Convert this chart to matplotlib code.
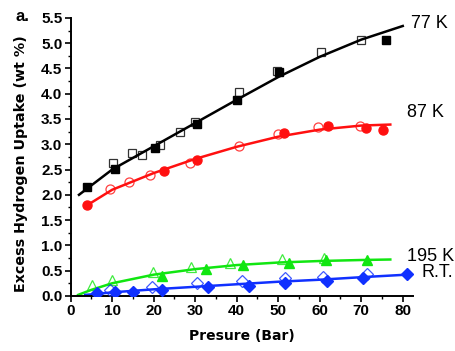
import matplotlib
matplotlib.use("Agg")
import matplotlib.pyplot as plt
from matplotlib.ticker import MultipleLocator

plt.rcParams['font.family'] = ['Liberation Sans', 'DejaVu Sans']

# 77 K
k77_fill_x = [3.9, 10.7, 20.3, 30.4, 40.0, 50.2, 76.0]
k77_fill_y = [2.16, 2.51, 2.93, 3.41, 3.88, 4.42, 5.06]
k77_open_x = [10.2, 14.8, 17.2, 21.5, 26.3, 30.0, 40.6, 49.7, 60.3, 70.0]
k77_open_y = [2.63, 2.83, 2.79, 2.99, 3.25, 3.45, 4.04, 4.44, 4.83, 5.07]
k77_fit_x = [2, 10, 20, 30, 40, 50, 60, 70, 80]
k77_fit_y = [2.0, 2.5, 2.96, 3.42, 3.88, 4.33, 4.73, 5.07, 5.34]

# 87 K
k87_fill_x = [3.9, 22.5, 30.5, 51.4, 61.9, 71.2, 75.2]
k87_fill_y = [1.80, 2.48, 2.69, 3.22, 3.37, 3.32, 3.28]
k87_open_x = [9.5, 14.1, 19.1, 28.8, 40.6, 50.0, 59.6, 69.7]
k87_open_y = [2.12, 2.26, 2.40, 2.63, 2.97, 3.20, 3.35, 3.37]
k87_fit_x = [3.5, 10, 20, 30, 40, 50, 60, 70, 77]
k87_fit_y = [1.77, 2.1, 2.43, 2.71, 2.95, 3.15, 3.29, 3.37, 3.39]

# 195 K
k195_fill_x = [22.0, 32.6, 41.5, 52.6, 61.5, 71.4]
k195_fill_y = [0.40, 0.53, 0.61, 0.66, 0.71, 0.71]
k195_open_x = [5.1, 9.9, 19.8, 29.1, 38.4, 50.9, 61.0]
k195_open_y = [0.22, 0.32, 0.48, 0.57, 0.65, 0.73, 0.75]
k195_fit_x = [1.8, 5, 10, 20, 30, 40, 50, 60, 70, 77]
k195_fit_y = [0.02, 0.12, 0.25, 0.42, 0.53, 0.61, 0.66, 0.69, 0.71, 0.72]

# R.T.
rt_fill_x = [6.3, 10.7, 15.0, 22.0, 33.2, 43.0, 51.6, 61.8, 70.5, 81.0]
rt_fill_y = [0.06, 0.08, 0.08, 0.12, 0.18, 0.20, 0.26, 0.30, 0.35, 0.43]
rt_open_x = [9.5, 19.5, 30.4, 41.2, 51.6, 60.8, 71.4]
rt_open_y = [0.12, 0.17, 0.25, 0.30, 0.35, 0.38, 0.43]
rt_fit_x = [3.5, 5, 10, 20, 30, 40, 50, 60, 70, 81]
rt_fit_y = [0.02, 0.03, 0.07, 0.13, 0.18, 0.23, 0.28, 0.32, 0.37, 0.42]

labels = ['77 K', '87 K', '195 K', 'R.T.']

fig = plt.figure(figsize=(4.56, 3.51), dpi=100)
ax = fig.add_axes([0.155, 0.157, 0.751, 0.792])

GREEN = '#11e611'
BLUE = '#1030ff'
series = [
    (k77_fit_x, k77_fit_y, k77_fill_x, k77_fill_y, k77_open_x, k77_open_y, 'black', 's', 6),
    (k87_fit_x, k87_fit_y, k87_fill_x, k87_fill_y, k87_open_x, k87_open_y, '#ff1010', 'o', 6.5),
    (k195_fit_x, k195_fit_y, k195_fill_x, k195_fill_y, k195_open_x, k195_open_y, GREEN, '^', 7.5),
    (rt_fit_x, rt_fit_y, rt_fill_x, rt_fill_y, rt_open_x, rt_open_y, BLUE, 'D', 6),
]
for fx, fy, ax_, ay, ox, oy, c, m, ms in series:
    ax.plot(fx, fy, color=c, lw=1.8, zorder=2)
    ax.plot(ox, oy, ls='none', marker=m, ms=ms, mfc='none', mec=c, mew=0.9, alpha=0.8, zorder=3)
    ax.plot(ax_, ay, ls='none', marker=m, ms=ms, color=c, zorder=4)

label_pos = [(82.0, 5.38), (81.0, 3.62), (81.0, 0.78), (84.5, 0.46)]
for t, (x, y) in zip(labels, label_pos):
    ax.text(x, y, t, fontsize=13, ha='left', va='center', clip_on=False)

ax.set_xlim(0, 82.5)
ax.set_ylim(0, 5.5)
ax.xaxis.set_major_locator(MultipleLocator(10))
ax.xaxis.set_minor_locator(MultipleLocator(5))
ax.yaxis.set_major_locator(MultipleLocator(0.5))
ax.yaxis.set_minor_locator(MultipleLocator(0.25))
ax.yaxis.set_major_formatter(matplotlib.ticker.FormatStrFormatter('%.1f'))
for s in ['top', 'right']:
    ax.spines[s].set_visible(False)
for s in ['left', 'bottom']:
    ax.spines[s].set_linewidth(1.4)
ax.tick_params(which='major', direction='out', length=4, width=1.2, labelsize=11, pad=2)
ax.tick_params(which='minor', direction='out', length=2.5, width=1.0)
for lab in ax.get_xticklabels() + ax.get_yticklabels():
    lab.set_fontweight('bold')

ax.set_xlabel('Presure (Bar)', fontsize=10, fontweight='bold', labelpad=8,
              family=['DejaVu Sans'])
ax.set_ylabel('Excess Hydrogen Uptake (wt %)', fontsize=10.3, fontweight='bold',
              family=['DejaVu Sans'])
ax.yaxis.set_label_coords(-0.125, 0.475)
fig.text(0.035, 0.952, 'a.', fontsize=12, fontweight='bold', ha='left', va='center')

fig.savefig('out.png', dpi=100)
